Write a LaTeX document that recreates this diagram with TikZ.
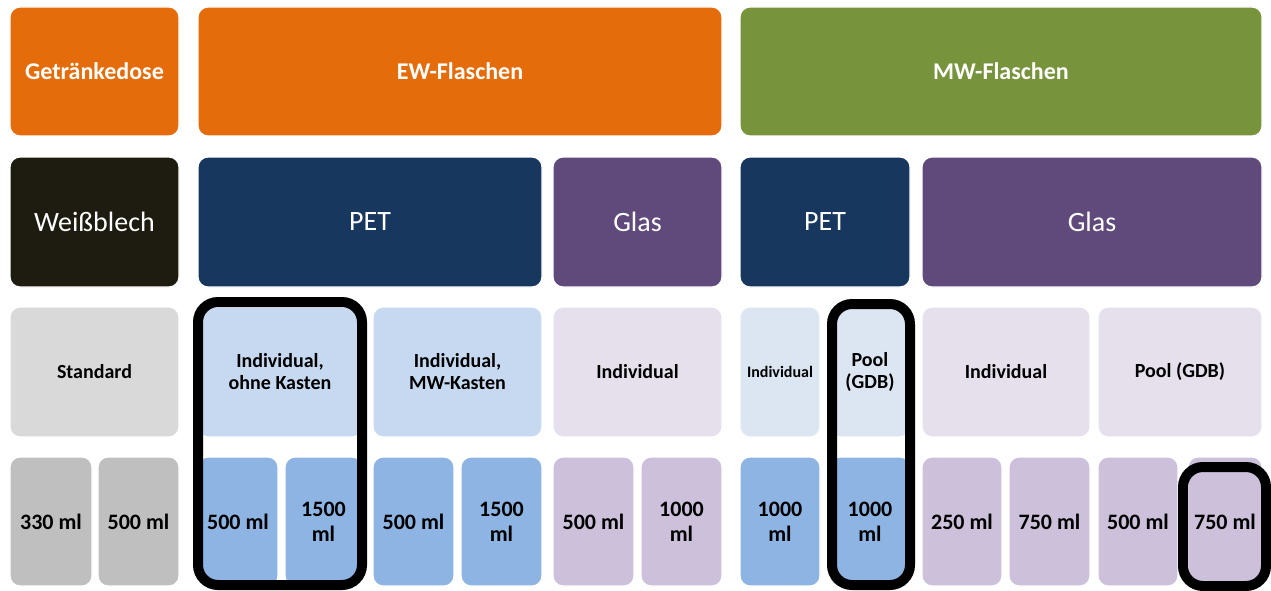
\documentclass[tikz,border=0pt]{standalone}
\usepackage{fontspec}
\setmainfont{Carlito}
\definecolor{corange}{HTML}{E46C0A}
\definecolor{cgreen}{HTML}{77933C}
\definecolor{cnavy}{HTML}{17375E}
\definecolor{cpurple}{HTML}{604A7B}
\definecolor{cblack}{HTML}{1E1C11}
\definecolor{cgrayA}{HTML}{D9D9D9}
\definecolor{cgrayB}{HTML}{BFBFBF}
\definecolor{cblueA}{HTML}{C6D9F1}
\definecolor{cblueL}{HTML}{DCE6F2}
\definecolor{cblueB}{HTML}{8DB4E2}
\definecolor{clavA}{HTML}{E5E0EC}
\definecolor{clavB}{HTML}{CCC0DA}
\newcommand\cell[7]{\node[#6, minimum width={(#4-#2)*1pt}, minimum height={(#5-#3)*1pt}] (#1) at ({(#2+#4)/2},{(#3+#5)/2}) {#7};}
\tikzset{
  box/.style={rounded corners=10pt, draw=white, line width=1.2pt, inner sep=0pt, outer sep=0pt, align=center},
  topbox/.style={box, text=white, font=\bfseries\fontsize{24}{28}\selectfont},
  matbox/.style={box, text=white, font=\fontsize{28}{32}\selectfont},
  typbox/.style={box, text=black, font=\bfseries\fontsize{20}{22}\selectfont},
  volbox/.style={box, text=black, font=\bfseries\fontsize{22}{25}\selectfont},
  hlbox/.style={rounded corners=20pt, draw=black, line width=10pt, inner sep=0pt, outer sep=0pt}
}
\begin{document}
\begin{tikzpicture}[x=1pt,y=-1pt]
\useasboundingbox[fill=white] (0,0) rectangle (1271,591);
% row 1
\cell{dose}{10}{7}{179}{136}{topbox, fill=corange}{Getränkedose}
\cell{ew}{198}{7}{722}{136}{topbox, fill=corange}{EW-Flaschen}
\cell{mw}{740}{7}{1262}{136}{topbox, fill=cgreen}{MW-Flaschen}
% row 2
\cell{weiss}{10}{157}{179}{287}{matbox, fill=cblack}{Weißblech}
\cell{ewpet}{198}{157}{542}{287}{matbox, fill=cnavy}{PET}
\cell{ewglas}{553}{157}{722}{287}{matbox, fill=cpurple}{Glas}
\cell{mwpet}{740}{157}{910}{287}{matbox, fill=cnavy}{PET}
\cell{mwglas}{922}{157}{1262}{287}{matbox, fill=cpurple}{Glas}
% row 3
\cell{std}{10}{307}{179}{437}{typbox, fill=cgrayA}{Standard}
\cell{indok}{198}{307}{362}{437}{typbox, fill=cblueA}{Individual,\\ohne Kasten}
\cell{indmk}{373}{307}{542}{437}{typbox, fill=cblueA}{Individual,\\MW-Kasten}
\cell{indeg}{553}{307}{722}{437}{typbox, fill=clavA}{Individual}
\cell{indmp}{740}{307}{820}{437}{typbox, fill=cblueL, font=\bfseries\fontsize{16}{18}\selectfont}{Individual}
\cell{poolmp}{830}{307}{910}{437}{typbox, fill=cblueL}{Pool\\(GDB)}
\cell{indmg}{922}{307}{1090}{437}{typbox, fill=clavA}{Individual}
\cell{poolmg}{1098}{307}{1262}{437}{typbox, fill=clavA}{Pool (GDB)}
% row 4
\cell{va}{10}{457}{92}{586}{volbox, fill=cgrayB}{330 ml}
\cell{vb}{98}{457}{179}{586}{volbox, fill=cgrayB}{500 ml}
\cell{vc}{198}{457}{278}{586}{volbox, fill=cblueB}{500 ml}
\cell{vd}{285}{457}{362}{586}{volbox, fill=cblueB}{1500\\ml}
\cell{ve}{373}{457}{454}{586}{volbox, fill=cblueB}{500 ml}
\cell{vf}{461}{457}{542}{586}{volbox, fill=cblueB}{1500\\ml}
\cell{vg}{553}{457}{634}{586}{volbox, fill=clavB}{500 ml}
\cell{vh}{641}{457}{722}{586}{volbox, fill=clavB}{1000\\ml}
\cell{vi}{740}{457}{820}{586}{volbox, fill=cblueB}{1000\\ml}
\cell{vj}{830}{457}{910}{586}{volbox, fill=cblueB}{1000\\ml}
\cell{vk}{922}{457}{1002}{586}{volbox, fill=clavB}{250 ml}
\cell{vl}{1009}{457}{1090}{586}{volbox, fill=clavB}{750 ml}
\cell{vm}{1098}{457}{1178}{586}{volbox, fill=clavB}{500 ml}
\cell{vn}{1188}{457}{1262}{586}{volbox, fill=clavB}{750 ml}
% highlights
\cell{hla}{198}{302}{362}{585}{hlbox}{}
\cell{hlb}{832}{304}{910}{585}{hlbox}{}
\cell{hlc}{1183}{467}{1266}{586}{hlbox}{}
\end{tikzpicture}
\end{document}
